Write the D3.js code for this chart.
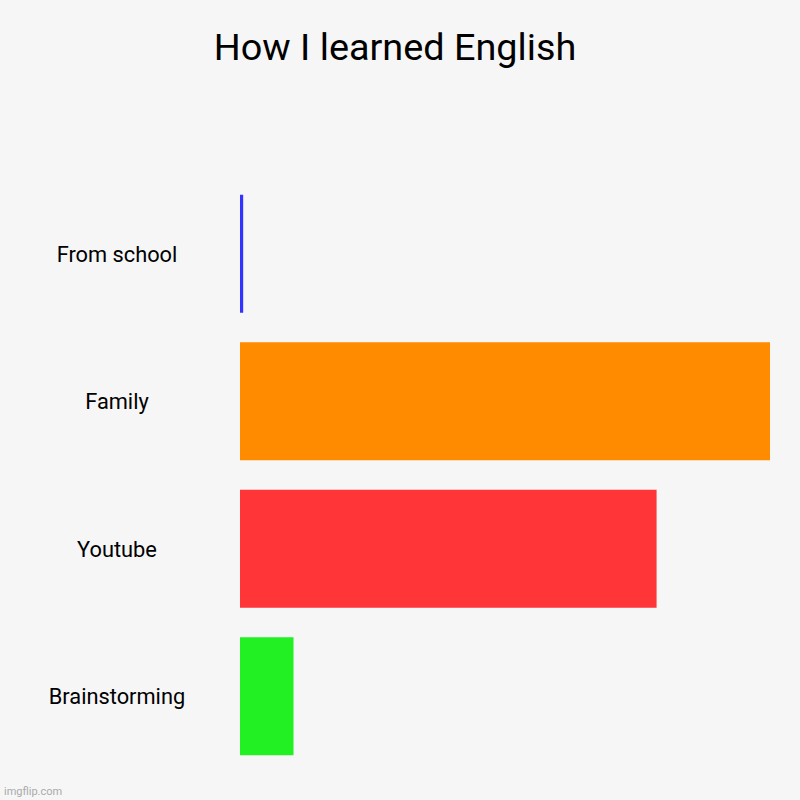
<!DOCTYPE html>
<html>
<head>
<meta charset="utf-8">
<script src="https://cdn.jsdelivr.net/npm/d3@7"></script>
<style>
html,body{margin:0;padding:0;background:#f6f6f6;}
svg{display:block;}
</style>
</head>
<body>
<script>
const categories = ["From school", "Family", "Youtube", "Brainstorming"];
const values = [0.6, 100, 78.6, 10.1];
const colors = ["#3333ff", "#ff8b00", "#ff3538", "#22f022"];
const title = "How I learned English";

const W = 800, H = 800;
const svg = d3.select("body").append("svg").attr("width", W).attr("height", H)
  .style("font-family", "Roboto, sans-serif");
svg.append("rect").attr("width", W).attr("height", H).attr("fill", "#f6f6f6");

const x = d3.scaleLinear().domain([0, d3.max(values)]).range([240, 770]);
const y = d3.scaleBand().domain(categories).range([180, 770]).paddingInner(0.2).paddingOuter(0.1);

svg.append("text").attr("x", 395).attr("y", 59.5).attr("text-anchor", "middle")
  .attr("font-size", 37.8).attr("fill", "#000").text(title);

svg.selectAll("rect.bar").data(categories).join("rect").attr("class", "bar")
  .attr("x", x(0)).attr("y", d => y(d))
  .attr("width", (d, i) => x(values[i]) - x(0))
  .attr("height", y.bandwidth())
  .attr("fill", (d, i) => colors[i]);

svg.selectAll("text.lab").data(categories).join("text").attr("class", "lab")
  .attr("x", 117).attr("y", d => y(d) + y.bandwidth() / 2 + 8)
  .attr("text-anchor", "middle").attr("font-size", 21.8).attr("fill", "#000")
  .text(d => d);

svg.append("text").attr("x", 4).attr("y", 795).attr("font-size", 11)
  .attr("fill", "#aaaaaa").text("imgflip.com");
</script>
</body>
</html>
